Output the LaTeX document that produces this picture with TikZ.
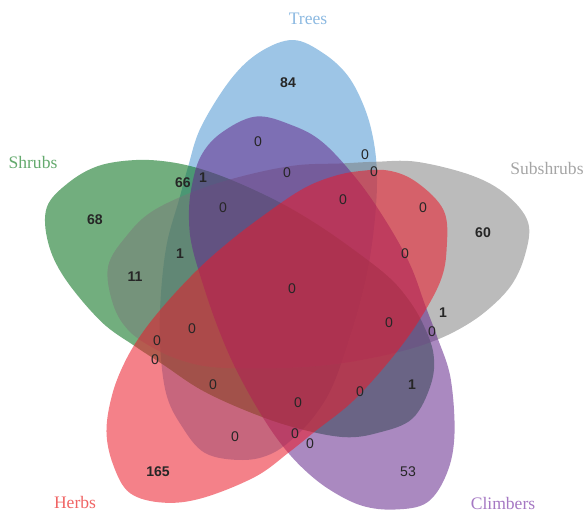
\documentclass[tikz,border=0pt]{standalone}
\usepackage{fontspec}
\setmainfont{Liberation Serif}
\newfontfamily\numfont{Liberation Sans}

\definecolor{treeblue}{RGB}{60,140,205}
\definecolor{shrubgreen}{RGB}{20,120,40}
\definecolor{subgrey}{RGB}{120,120,120}
\definecolor{herbred}{RGB}{235,25,40}
\definecolor{climbpurple}{RGB}{100,40,140}

\begin{document}
\begin{tikzpicture}[x=0.02cm,y=0.02cm,
                    num/.style={font=\numfont\fontsize{8}{9}\selectfont,text=black!85,inner sep=0pt},
                    bnum/.style={num,font=\numfont\bfseries\fontsize{8}{9}\selectfont},
                    set label/.style={font=\fontsize{10}{12}\selectfont,inner sep=0pt}]

  \useasboundingbox (0,0) rectangle (585,512);
  \coordinate (C) at (285,219);

  % the five eggs, same outline turned by 72 degrees
  \foreach \ang/\col/\op in {0/treeblue/0.5, 72/shrubgreen/0.6, -72/subgrey/0.5,
                             -144/climbpurple/0.55, 144/herbred/0.55}
    \fill[\col, fill opacity=\op, shift={(C)}, rotate=\ang]
      plot[smooth cycle, tension=0.6] coordinates {
        (8,253) (38,240) (63,217) (80,184) (89,150) (92,115) (90,75)
        (84,30) (75,-10) (63,-50) (48,-92) (33,-118) (14,-140) (-12,-160)
        (-42,-167) (-80,-160) (-104,-132) (-119,-100) (-125,-50) (-124,0)
        (-118,50) (-106,93) (-97,126) (-84,166) (-54,214) (-25,241)};

  % set names
  \node[set label, text={rgb,255:red,140;green,185;blue,225}] (trees) at (308,493) {Trees};
  \node[set label, text={rgb,255:red,100;green,170;blue,110}] (shrubs) at (33,350) {Shrubs};
  \node[set label, text={rgb,255:red,165;green,165;blue,165}] (subshrubs) at (547,344) {Subshrubs};
  \node[set label, text={rgb,255:red,240;green,100;blue,100}] (herbs) at (75,10) {Herbs};
  \node[set label, text={rgb,255:red,165;green,120;blue,195}] (climbers) at (503,9) {Climbers};

  % counts
  \foreach \x/\y/\t [count=\i] in {288/429/84, 183/329/66, 203/334/1, 95/292/68,
                                   483/279/60, 180/258/1, 135/235/11, 443/199/1,
                                   412/127/1, 158/40/165}
    \node[bnum] (b\i) at (\x,\y) {\t};

  \foreach \x/\y/\t [count=\i] in {258/370/0, 287/339/0, 223/304/0, 365/357/0,
                                   374/340/0, 343/312/0, 423/304/0, 405/258/0,
                                   292/223/0, 192/183/0, 389/189/0, 432/180/0,
                                   157/171/0, 155/152/0, 213/127/0, 298/109/0,
                                   360/120/0, 235/75/0, 295/78/0, 310/68/0,
                                   408/40/53}
    \node[num] (z\i) at (\x,\y) {\t};
\end{tikzpicture}
\end{document}
